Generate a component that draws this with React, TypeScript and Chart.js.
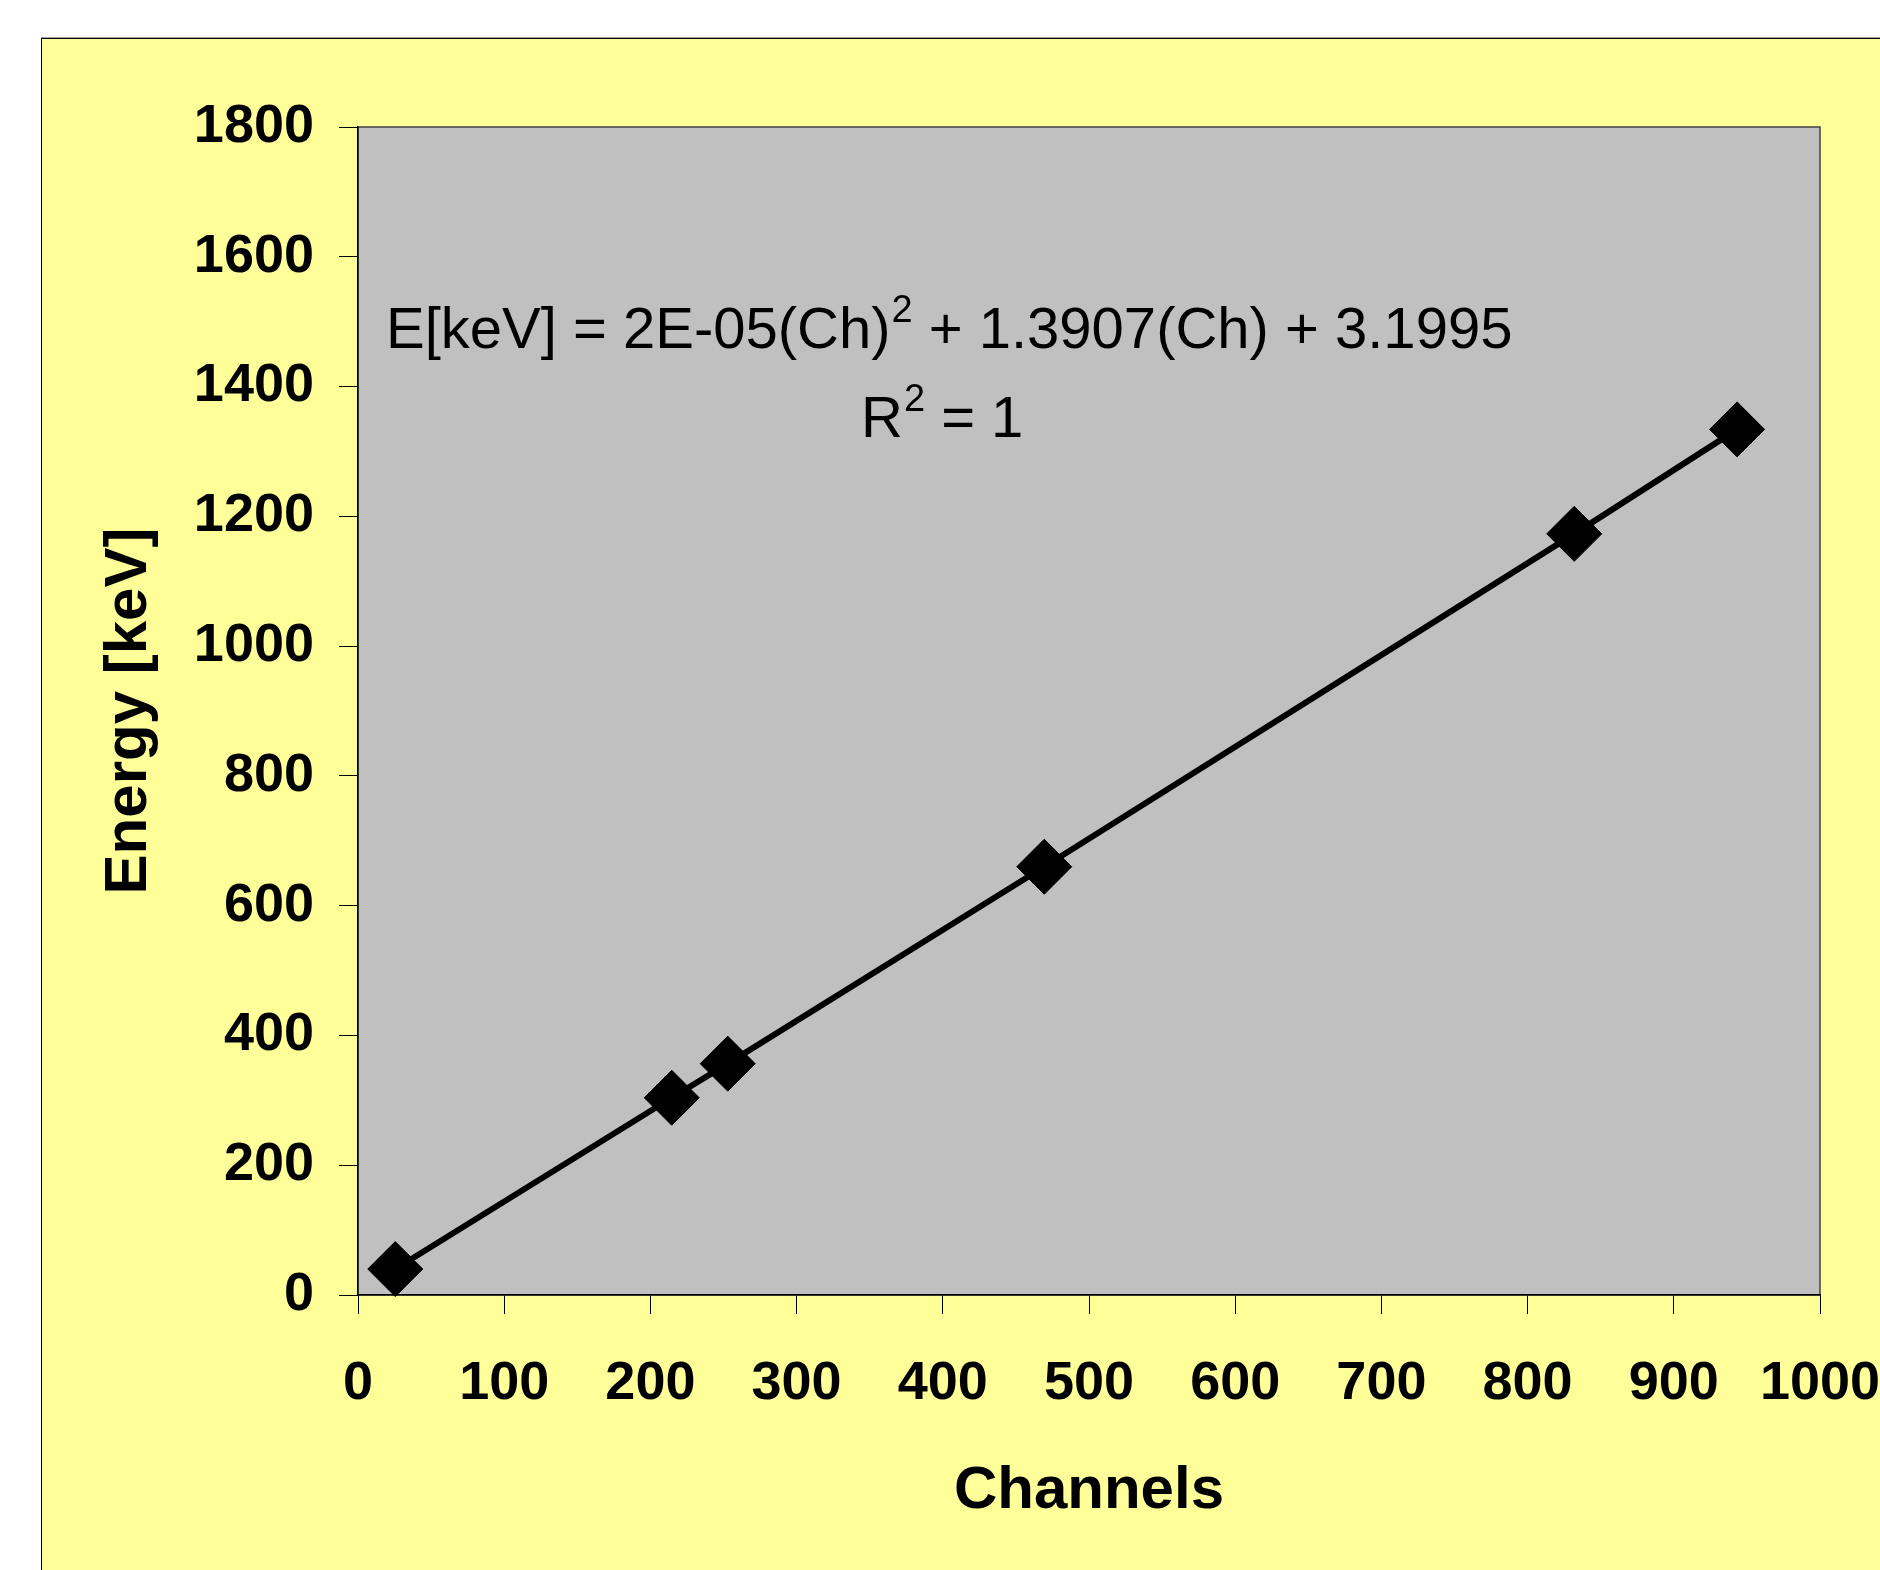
import React, { useEffect, useRef } from 'react';
import { Chart, registerables } from 'chart.js';

Chart.register(...registerables);

// ---- Data ----
const channels = [25.5, 214.6, 252.9, 469.4, 831.9, 943.3];
const energies = [40, 304, 356.5, 660, 1173, 1334];

const xMin = 0;
const xMax = 1000;
const xStep = 100;
const yMin = 0;
const yMax = 1800;
const yStep = 200;

const xTitle = 'Channels';
const yTitle = 'Energy [keV]';
const equationMain = 'E[keV] = 2E-05(Ch)';
const equationSup = '2';
const equationRest = ' + 1.3907(Ch) + 3.1995';
const rSquaredBase = 'R';
const rSquaredSup = '2';
const rSquaredRest = ' = 1';

const FONT = '"Liberation Sans", Arial, Helvetica, sans-serif';

const backgroundPlugin = {
  id: 'excelBackground',
  beforeDraw(chart: any) {
    const { ctx, chartArea: a, width, height } = chart;
    ctx.save();
    ctx.fillStyle = '#ffffff';
    ctx.fillRect(0, 0, width, height);
    // yellow chart frame
    ctx.fillStyle = '#FFFF99';
    ctx.fillRect(41, 38, width, height);
    ctx.fillStyle = '#000000';
    ctx.fillRect(41, 38, width, 1);
    ctx.fillRect(41, 38, 1, height);
    ctx.fillStyle = 'rgba(0,0,0,0.35)';
    ctx.fillRect(41, 37, width, 1);
    // plot area
    ctx.fillStyle = '#C0C0C0';
    ctx.fillRect(a.left, a.top, a.right - a.left, a.bottom - a.top);
    ctx.strokeStyle = '#404040';
    ctx.lineWidth = 1.5;
    ctx.strokeRect(a.left, a.top, a.right - a.left, a.bottom - a.top);
    ctx.restore();
  },
};

const equationPlugin = {
  id: 'equationText',
  afterDraw(chart: any) {
    const { ctx, chartArea: a } = chart;
    ctx.save();
    ctx.fillStyle = '#000000';
    ctx.textAlign = 'left';
    ctx.textBaseline = 'alphabetic';
    const big = `58px ${FONT}`;
    const small = `38px ${FONT}`;

    let x = a.left + 28;
    const y = a.top + 221;
    ctx.font = big;
    ctx.fillText(equationMain, x, y);
    x += ctx.measureText(equationMain).width;
    ctx.font = small;
    ctx.fillText(equationSup, x + 1, y - 26);
    x += ctx.measureText(equationSup).width + 1;
    ctx.font = big;
    ctx.fillText(equationRest, x, y);

    let x2 = a.left + 503;
    const y2 = a.top + 310;
    ctx.font = big;
    ctx.fillText(rSquaredBase, x2, y2);
    x2 += ctx.measureText(rSquaredBase).width;
    ctx.font = small;
    ctx.fillText(rSquaredSup, x2 + 1, y2 - 26);
    x2 += ctx.measureText(rSquaredSup).width + 1;
    ctx.font = big;
    ctx.fillText(rSquaredRest, x2, y2);
    ctx.restore();
  },
};

export default function App() {
  const canvasRef = useRef<HTMLCanvasElement | null>(null);

  useEffect(() => {
    if (!canvasRef.current) return;
    const tickFont = { family: FONT, size: 54, weight: 'bold' as const };
    const titleFont = { family: FONT, size: 60, weight: 'bold' as const };
    const plain = (v: any) => String(v);

    const chart = new Chart(canvasRef.current, {
      type: 'scatter',
      data: {
        datasets: [
          {
            label: 'Calibration',
            data: channels.map((c, i) => ({ x: c, y: energies[i] })),
            showLine: true,
            borderColor: '#000000',
            borderWidth: 6,
            pointStyle: 'rectRot',
            pointRadius: 27.5,
            pointHoverRadius: 27.5,
            pointBackgroundColor: '#000000',
            pointBorderColor: '#000000',
            pointBorderWidth: 1,
            tension: 0,
            clip: false,
          },
        ],
      },
      options: {
        responsive: false,
        animation: false,
        devicePixelRatio: 1,
        layout: { padding: { top: 127, right: 60, bottom: 0, left: 0 } },
        plugins: {
          legend: { display: false },
          tooltip: { enabled: false },
        },
        scales: {
          x: {
            type: 'linear',
            min: xMin,
            max: xMax,
            ticks: {
              stepSize: xStep,
              font: tickFont,
              color: '#000000',
              padding: 38,
              maxRotation: 0,
              autoSkip: false,
              callback: plain,
            },
            grid: {
              display: true,
              drawOnChartArea: false,
              drawTicks: true,
              tickLength: 19,
              color: '#000000',
              lineWidth: 1,
            },
            border: { display: true, color: '#000000', width: 1.5 },
            title: {
              display: true,
              text: xTitle,
              font: titleFont,
              color: '#000000',
              padding: { top: 0, bottom: 43 },
            },
            afterFit: (s: any) => {
              s.height = 275;
              s.paddingLeft = 0;
              s.paddingRight = 0;
            },
          },
          y: {
            type: 'linear',
            min: yMin,
            max: yMax,
            ticks: {
              stepSize: yStep,
              font: tickFont,
              color: '#000000',
              padding: 25,
              autoSkip: false,
              callback: plain,
            },
            grid: {
              display: true,
              drawOnChartArea: false,
              drawTicks: true,
              tickLength: 19,
              color: '#000000',
              lineWidth: 1,
            },
            border: { display: true, color: '#000000', width: 1.5 },
            title: {
              display: true,
              text: yTitle,
              font: titleFont,
              color: '#000000',
              padding: { top: 93, bottom: 0 },
            },
            afterFit: (s: any) => {
              s.width = 358;
              s.paddingTop = 0;
              s.paddingBottom = 0;
            },
          },
        },
      },
      plugins: [backgroundPlugin, equationPlugin],
    });
    return () => chart.destroy();
  }, []);

  return (
    <div style={{ position: 'absolute', left: 0, top: 0, width: 1880, height: 1570, overflow: 'hidden' }}>
      <canvas ref={canvasRef} width={1880} height={1570} style={{ display: 'block' }} />
    </div>
  );
}
